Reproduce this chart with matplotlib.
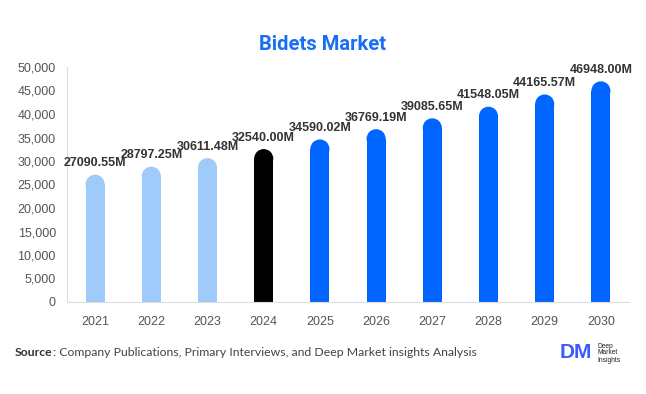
import matplotlib
matplotlib.use("Agg")
import matplotlib.pyplot as plt
from matplotlib.patches import Ellipse
from matplotlib.ticker import FuncFormatter

plt.rcParams["font.family"] = ["Liberation Sans", "DejaVu Sans"]

years = ["2021", "2022", "2023", "2024", "2025", "2026", "2027", "2028", "2029", "2030"]
values = [27090.55, 28797.25, 30611.48, 32540.00, 34590.02, 36769.19, 39085.65, 41548.05, 44165.57, 46948.00]
labels = ["27090.55M", "28797.25M", "30611.48M", "32540.00M", "34590.02M",
          "36769.19M", "39085.65M", "41548.05M", "44165.57M", "46948.00M"]
colors = ["#9FCBFB"] * 3 + ["#000000"] + ["#0066FF"] * 6

fig = plt.figure(figsize=(6.46, 3.94), dpi=100)
ax = fig.add_axes([67/646, 1 - 302/394, (629-67)/646, (302-67)/394])

ymax = 50000
ax.set_ylim(0, ymax)
ax.set_xlim(-0.5, len(years) - 0.5)

bw = 0.34
ax_h_px = 302 - 67
ax_w_px = 629 - 67
r_px = bw * ax_w_px / len(years) / 2
r_data = r_px / ax_h_px * ymax

xs = list(range(len(years)))
for x, v, c, lab in zip(xs, values, colors, labels):
    ax.bar(x, v - r_data, width=bw, color=c, zorder=2, lw=0)
    ax.add_patch(Ellipse((x, v - r_data), bw, 2 * r_data, color=c, zorder=2, lw=0))
    ax.annotate(lab, (x, v), xytext=(0, 4), textcoords="offset points",
                ha="center", va="bottom", fontsize=9, fontweight="bold", color="#333333")

ax.set_xticks(xs)
ax.set_xticklabels(years)
ax.set_yticks(range(0, 50001, 5000))
ax.yaxis.set_major_formatter(FuncFormatter(lambda v, p: f"{int(v):,}"))
ax.tick_params(axis="both", length=0, labelsize=9, labelcolor="#555555")
ax.tick_params(axis="x", pad=10)
ax.tick_params(axis="y", pad=8)
for s in ["top", "right"]:
    ax.spines[s].set_visible(False)
ax.spines["left"].set_color("#dddddd")
ax.spines["bottom"].set_color("#dddddd")

fig.text(0.5, 1 - 45/394, "Bidets Market", ha="center", va="center",
         fontsize=14.5, fontweight="bold", color="#1A6EF5", family=["Roboto", "DejaVu Sans"])

src = fig.text(15/646, 1 - 353/394, "Source", ha="left", va="center", fontsize=8.8,
               fontweight="bold", color="#333333", family=["Lato", "DejaVu Sans"])
fig.canvas.draw()
bb = src.get_window_extent()
fig.text(bb.x1 / fig.bbox.width, 1 - 353/394,
         ": Company Publications, Primary Interviews, and Deep Market insights Analysis",
         ha="left", va="center", fontsize=8.8, color="#444444", family=["Lato", "DejaVu Sans"])

fig.text(576/646, 1 - 353/394, "DM", ha="center", va="center", fontsize=15,
         fontweight="bold", color="#3D5AFE")
fig.text(597/646, 1 - 353/394, "Deep\nMarket\nInsights", ha="left", va="center",
         fontsize=4.8, color="#222222", linespacing=1.0)

fig.savefig("out.png", dpi=100)
